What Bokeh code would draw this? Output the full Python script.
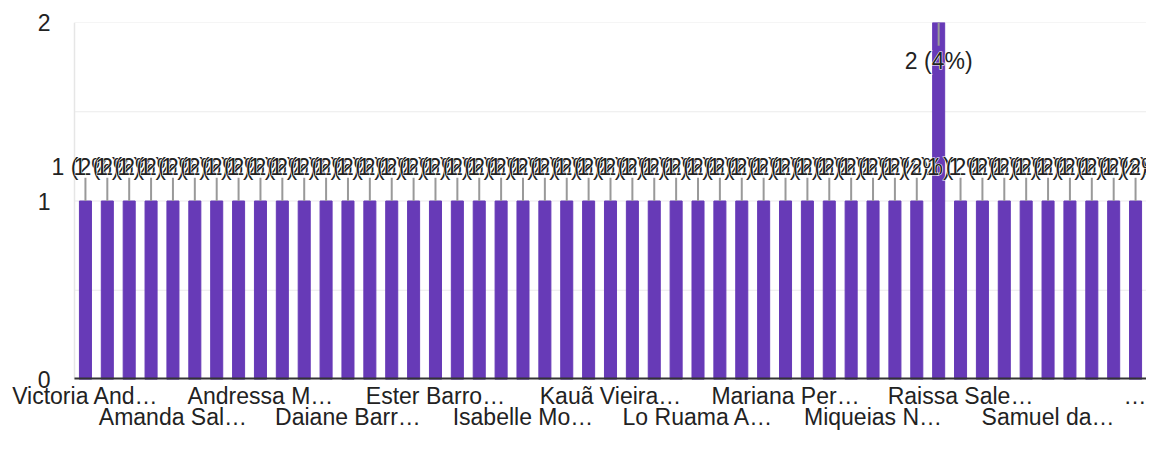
from bokeh.plotting import figure
from bokeh.models import ColumnDataSource, Label, LinearAxis, FixedTicker, Range1d
from bokeh.embed import file_html
from bokeh.resources import INLINE

names = [
    "Victoria And…", "Adriana Cos…", "Alice Ferre…", "Amanda Lim…", "Amanda Sal…",
    "Ana Beatriz…", "Ana Clara S…", "Ana Júlia R…", "Andressa M…", "Beatriz Alv…",
    "Bruna Sant…", "Carlos Edu…", "Daiane Barr…", "Daniel Souz…", "Débora Lim…",
    "Eduarda Ro…", "Ester Barro…", "Felipe Cost…", "Gabriel Silv…", "Giovanna P…",
    "Isabelle Mo…", "Jéssica Alm…", "João Pedro…", "Julia Mende…", "Kauã Vieira…",
    "Larissa Go…", "Letícia Fer…", "Lívia Carva…", "Lo Ruama A…", "Lucas Olive…",
    "Maria Eduar…", "Mariana Co…", "Mariana Per…", "Mateus Ribe…", "Matheus Sil…",
    "Miguel Arau…", "Miqueias N…", "Natália Dia…", "Pedro Henr…", "Rafaela Gom…",
    "Raissa Sale…", "Rebeca Mart…", "Ricardo Lop…", "Sabrina Cos…", "Samuel da…",
    "Sara Mendes…", "Thiago Alve…", "Vitória Rod…", "…",
]
counts = [1] * 39 + [2] + [1] * 9
y_ticks = [0, 0.5, 1, 1.5, 2]
y_tick_labels = {0: "0", 0.5: "", 1: "1", 1.5: "", 2: "2"}

total = sum(counts)
ymax = 2
n = len(names)
idx = list(range(n))
labels = [f"{c} ({round(100 * c / total)}%)" for c in counts]
inside = [c >= ymax for c in counts]
lead = 0.13
lead_y1 = [c - lead if ins else c + lead for c, ins in zip(counts, inside)]
lab_off = [-38 if ins else 34 for ins in inside]

src = ColumnDataSource(dict(x=idx, name=names, top=counts, y1=lead_y1))

FONT = "Liberation Sans"
W, H = 1146, 433
FRAME_L = 52          # frame starts left of the bar area so labels may spill
PAD_L = 22            # gap between frame edge and bar area
scale = (W - FRAME_L - PAD_L) / n
x_start = -0.5 - PAD_L / scale

p = figure(x_range=Range1d(x_start, n - 0.5), y_range=Range1d(0, ymax),
           width=W, height=H, output_backend="svg", toolbar_location=None,
           min_border_left=FRAME_L, min_border_right=0, min_border_top=22, min_border_bottom=54)
p.outline_line_color = None
p.background_fill_color = "white"
p.xaxis.visible = False
p.xgrid.visible = False
p.ygrid.visible = False

# gridlines and left border of the bar area
grid_y = [t for t in y_ticks if t > 0]
p.segment(x0=[-0.5] * len(grid_y), x1=[n - 0.5] * len(grid_y), y0=grid_y, y1=grid_y,
          line_color="#ebebeb", line_width=1.2)
p.segment(x0=[-0.5], x1=[-0.5], y0=[0], y1=[ymax], line_color="#e6e6e6", line_width=1.5)

p.vbar(x="x", top="top", width=0.55, source=src, color="#673ab7")
p.segment(x0=[-0.5], x1=[n - 0.5], y0=[0], y1=[0], line_color="#333333", line_width=4)
p.segment(x0="x", y0="top", x1="x", y1="y1", source=src, line_color="#999999", line_width=2)

for i, (lab, c, off) in enumerate(zip(labels, counts, lab_off)):
    common = dict(x=i, y=c, y_offset=off, text=lab, text_align="center", text_baseline="middle",
                  text_font=FONT, text_font_size="23px")
    p.add_layout(Label(text_color="white", text_outline_color="white", **common))
    p.add_layout(Label(text_color="#222222", **common))

# y axis
p.yaxis.ticker = FixedTicker(ticks=y_ticks)
p.yaxis.major_label_overrides = y_tick_labels
p.yaxis.major_tick_line_color = None
p.yaxis.major_tick_out = 0
p.yaxis.minor_tick_out = 0
p.yaxis.minor_tick_line_color = None
p.yaxis.axis_line_color = None
p.yaxis.major_label_standoff = 2
p.yaxis.major_label_text_font = FONT
p.yaxis.major_label_text_font_size = "23px"
p.yaxis.major_label_text_color = "#222222"

# x axes: two alternating label rows
row1 = [i for i in idx if i % 8 == 0]
row2 = [i for i in idx if i % 8 == 4]
axis_style = dict(axis_line_color=None, major_tick_line_color=None, minor_tick_line_color=None,
                  major_tick_out=0, minor_tick_out=0,
                  major_label_text_font=FONT, major_label_text_font_size="23px",
                  major_label_text_color="#222222")
ax1 = LinearAxis(ticker=FixedTicker(ticks=row1), major_label_overrides={i: names[i] for i in row1},
                 major_label_standoff=3, **axis_style)
ax2 = LinearAxis(ticker=FixedTicker(ticks=row2), major_label_overrides={i: names[i] for i in row2},
                 major_label_standoff=-8, **axis_style)
p.add_layout(ax1, "below")
p.add_layout(ax2, "below")

open("out.html", "w").write(file_html(p, INLINE))
